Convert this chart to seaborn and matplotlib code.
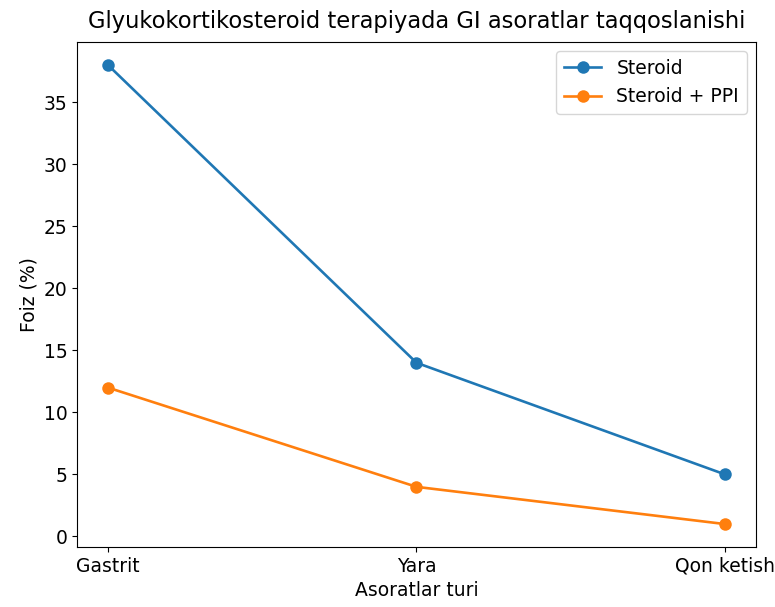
import numpy as np
import pandas as pd
import matplotlib
matplotlib.use('Agg')
import matplotlib.pyplot as plt
import seaborn as sns

# ma'lumotlar
turlar = ['Gastrit', 'Yara', 'Qon ketish']
steroid = [38, 14, 5]
steroid_ppi = [12, 4, 1]
guruhlar = ['Steroid', 'Steroid + PPI']

df = pd.DataFrame({
    'tur': turlar * 2,
    'foiz': steroid + steroid_ppi,
    'guruh': [guruhlar[0]] * 3 + [guruhlar[1]] * 3,
})

plt.rcParams['font.size'] = 13.5
fig = plt.figure(figsize=(7.75, 6.07), dpi=100)
ax = fig.add_axes([0.0994, 0.0988, 0.876, 0.832])

sns.lineplot(data=df, x='tur', y='foiz', hue='guruh', marker='o',
             markersize=9, markeredgewidth=0, linewidth=1.9,
             palette=['#1f77b4', '#ff7f0e'], ax=ax)

ax.set_title('Glyukokortikosteroid terapiyada GI asoratlar taqqoslanishi',
             fontsize=16.3, pad=10)
ax.set_xlabel('Asoratlar turi')
ax.set_ylabel('Foiz (%)')
ax.set_yticks([0, 5, 10, 15, 20, 25, 30, 35])
ax.margins(x=0.05, y=0.05)
ax.legend(title=None, loc='upper right')

fig.savefig('out.png', dpi=100)
